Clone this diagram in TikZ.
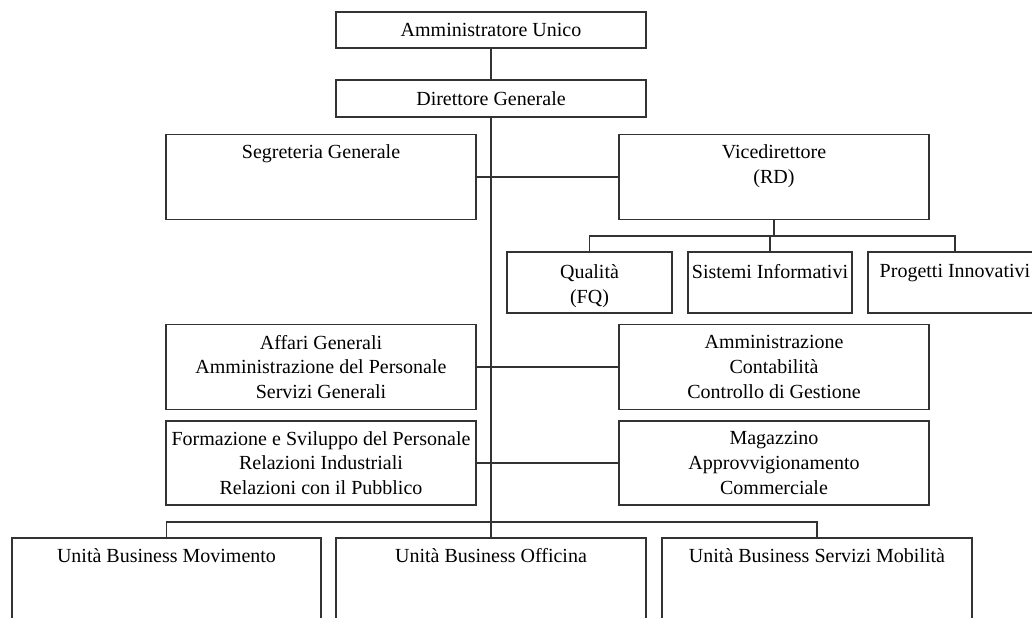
\documentclass[tikz,border=0pt]{standalone}
\usepackage{fontspec}
\setmainfont{Liberation Serif}
\usetikzlibrary{positioning}
\tikzset{
    box/.style={rectangle, draw=black!80, line width=0.8pt, minimum width=155pt,
                inner sep=0pt, align=center, font=\fontsize{10}{12.3}\selectfont},
    bigbox/.style={box, minimum height=42.5pt},
    subbox/.style={box, minimum width=82.5pt, minimum height=30.5pt},
    unitbox/.style={box, minimum height=51pt},
    lbl/.style={align=center, inner sep=2pt, font=\fontsize{10}{12.3}\selectfont},
    conn/.style={draw=black!80, line width=0.8pt},
}

\begin{document}
\begin{tikzpicture}[x=0.5pt, y=-0.5pt]

  \useasboundingbox (0,0) rectangle (1032,617);

  % vertice
  \node[box, minimum height=18pt] (au) at (491,30) {Amministratore Unico};
  \node[box, minimum height=18.5pt] (dg) at (491,98.5) {Direttore Generale};

  % staff
  \node[bigbox] (seg) at (321,177) {};
  \node[lbl, below=3.5pt of seg.north] (segtxt) {Segreteria Generale};
  \node[bigbox] (vd) at (774,177) {};
  \node[lbl, below=3.5pt of vd.north] (vdtxt) {Vicedirettore\\(RD)};

  \node[subbox] (qual) at (589.5,282.5) {};
  \node[lbl, below=4.5pt of qual.north] (qualtxt) {Qualità\\(FQ)};
  \node[subbox, minimum width=82pt] (sis) at (770,282.5) {};
  \node[lbl, below=4.5pt of sis.north] (sistxt) {Sistemi Informativi};
  \node[subbox, minimum width=87pt] (prog) at (955,282.5) {};
  \node[lbl, below=4.5pt of prog.north] (progtxt) {Progetti Innovativi};

  % funzioni
  \node[bigbox] (aff) at (321,367)
        {Affari Generali\\Amministrazione del Personale\\Servizi Generali};
  \node[bigbox] (amm) at (774,367)
        {Amministrazione\\Contabilità\\Controllo di Gestione};
  \node[bigbox, minimum height=42pt] (form) at (321,463)
        {Formazione e Sviluppo del Personale\\Relazioni Industriali\\Relazioni con il Pubblico};
  \node[bigbox, minimum height=42pt] (mag) at (774,463)
        {Magazzino\\Approvvigionamento\\Commerciale};

  % unita' di business
  \node[unitbox, minimum width=154.5pt] (ubm) at (166.5,589) {};
  \node[lbl, below=3.5pt of ubm.north] (ubmtxt) {Unità Business Movimento};
  \node[unitbox] (ubo) at (491,589) {};
  \node[lbl, below=3.5pt of ubo.north] (ubotxt) {Unità Business Officina};
  \node[unitbox] (ubs) at (817,589) {};
  \node[lbl, below=3.5pt of ubs.north] (ubstxt) {Unità Business Servizi Mobilità};

  \coordinate (vdbar) at (774,236);
  \coordinate (ubbar) at (491,522);

  \draw[conn] (au) -- (dg);
  \draw[conn] (dg.south) -- (ubo.north);
  \draw[conn] (seg) -- (vd);
  \draw[conn] (aff) -- (amm);
  \draw[conn] (form) -- (mag);
  \draw[conn] (vd.south) -- (vdbar);
  \draw[conn] (qual.north) |- (vdbar) -| (prog.north);
  \draw[conn] (sis.north) -- (sis.north |- vdbar);
  \draw[conn] (ubm.north) |- (ubbar) -| (ubs.north);

\end{tikzpicture}
\end{document}
